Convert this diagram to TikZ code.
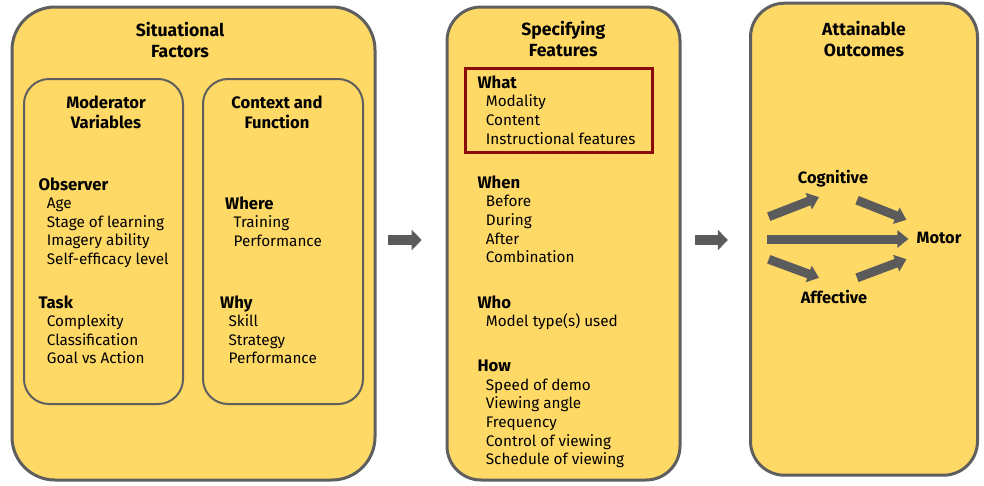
\documentclass[tikz,border=0pt]{standalone}
\usepackage{fontspec}
\setmainfont{Fira Sans}
\usetikzlibrary{arrows.meta,positioning}
\definecolor{boxfill}{HTML}{FFD966}
\definecolor{boxline}{HTML}{5F5F5F}
\definecolor{arrowgray}{HTML}{5B5B5B}
\definecolor{whatred}{HTML}{8B0A0A}
\newcommand{\ind}{\hspace*{8.4pt}}
\newcommand{\hd}[1]{{\bfseries\fontsize{16.7}{18.6}\selectfont #1}}

\begin{document}
\begin{tikzpicture}[x=1pt,y=-1pt]
   \tikzstyle{panel}=[fill=boxfill,draw=boxline,line width=3pt,outer sep=0pt,inner sep=0pt]
   \tikzstyle{subpanel}=[draw=boxline,line width=2pt,rounded corners=25pt,outer sep=0pt,inner sep=0pt]
   \tikzstyle{title}=[align=center,anchor=base,inner sep=0pt,font=\bfseries\fontsize{17.6}{21.5}\selectfont]
   \tikzstyle{subtitle}=[align=center,anchor=base,inner sep=0pt,font=\bfseries\fontsize{16.6}{20}\selectfont]
   \tikzstyle{group}=[align=left,anchor=base west,inner sep=0pt,font=\fontsize{15.3}{18.6}\selectfont]
   \tikzstyle{outcome}=[anchor=base,inner sep=2pt,font=\bfseries\fontsize{16.4}{18}\selectfont]
   \tikzstyle{link}=[draw=arrowgray,line width=10pt,-{Triangle[length=10pt,width=20pt]}]
   \tikzstyle{fat}=[draw=arrowgray,line width=9pt,-{Triangle[length=11pt,width=17pt]}]
   \useasboundingbox (0,0) rectangle (984,485);
   \node (sit) [panel,rounded corners=43pt,minimum width=363pt,minimum height=473pt] at (193.5,243.5) {};
   \node (spec) [panel,rounded corners=34pt,minimum width=233pt,minimum height=473pt] at (563.5,243.5) {};
   \node (outc) [panel,rounded corners=34pt,minimum width=227pt,minimum height=472pt] at (864,239.2) {};
   \node (mod) [subpanel,minimum width=159pt,minimum height=325pt] at (103.5,241.5) {};
   \node (ctx) [subpanel,minimum width=160pt,minimum height=325pt] at (283,241.5) {};
   \node (whatbox) [draw=whatred,line width=3pt,inner sep=0pt,minimum width=187pt,minimum height=84.4pt] at (558.5,110.5) {};
   \node (sittitle) [title] at (180,57.5) {Situational\\Factors} ;
   \node (spectitle) [title] at (563.3,56.7) {Specifying\\Features} ;
   \node (outctitle) [title] at (864,56.7) {Attainable\\Outcomes} ;
   \node (modtitle) [subtitle] at (106,128) {Moderator\\Variables} ;
   \node (ctxtitle) [subtitle] at (277,128) {Context and\\Function} ;
   \node (observer) [group] at (38.3,264.4) {\hd{Observer}\\\ind Age\\\ind Stage of learning\\\ind Imagery ability\\\ind Self-efficacy level} ;
   \node (task) [group] at (38.3,363.8) {\hd{Task}\\\ind Complexity\\\ind Classification\\\ind Goal vs Action} ;
   \node (where) [group] at (225,246.2) {\hd{Where}\\\ind Training\\\ind Performance} ;
   \node (why) [group] at (220,363.8) {\hd{Why}\\\ind Skill\\\ind Strategy\\\ind Performance} ;
   \node (what) [group] at (477.3,144.1) {\hd{What}\\\ind Modality\\\ind Content\\\ind Instructional features} ;
   \node (when) [group] at (477.3,262.7) {\hd{When}\\\ind Before\\\ind During\\\ind After\\\ind Combination} ;
   \node (who) [group] at (477.3,326.9) {\hd{Who}\\\ind Model type(s) used} ;
   \node (how) [group] at (477.3,464.7) {\hd{How}\\\ind Speed of demo\\\ind Viewing angle\\\ind Frequency\\\ind Control of viewing\\\ind Schedule of viewing} ;
   \node (cog) [outcome] at (833,183.3) {Cognitive} ;
   \node (motor) [outcome] at (939,243.3) {Motor} ;
   \node (aff) [outcome] at (834,303.3) {Affective} ;
   \coordinate (srcup) at (768.7,216.7) ;
   \coordinate (src) at (766.7,239) ;
   \coordinate (srcdn) at (768.7,259.3) ;
   \path [link,shorten <=13.3pt,shorten >=25.3pt] ([yshift=3.5pt]sit.east) -- ([yshift=3.5pt]sit.east -| spec.west) ;
   \path [link,shorten <=15pt,shorten >=22.7pt] ([yshift=3.5pt]spec.east) -- ([yshift=3.5pt]spec.east -| outc.west) ;
   \path [fat] (srcup) -- ([xshift=-14pt,yshift=-8pt]cog.south) ;
   \path [fat] ([xshift=24pt,yshift=-11pt]cog.south) -- ([xshift=-8pt,yshift=18pt]motor.west) ;
   \path [fat,shorten >=6pt] (src) -- (src -| motor.west) ;
   \path [fat] (srcdn) -- ([xshift=-15pt,yshift=10pt]aff.north) ;
   \path [fat] ([xshift=23pt,yshift=10pt]aff.north) -- ([xshift=-8pt,yshift=-21.5pt]motor.west) ;
\end{tikzpicture}
\end{document}
